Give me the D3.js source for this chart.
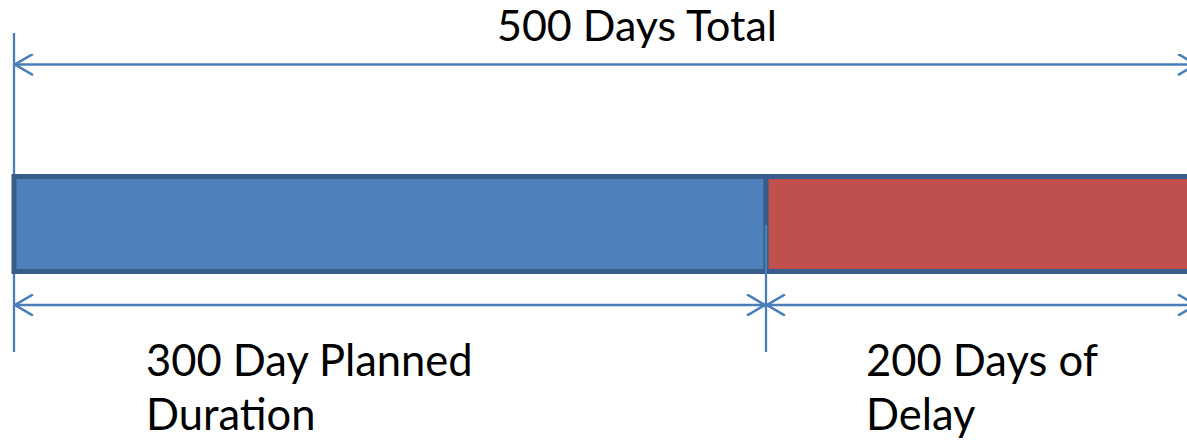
<!DOCTYPE html>
<html lang="en">
<head>
    <meta charset="UTF-8">
    <title>500 Days Total</title>
    <style>
        body { margin: 0; background: #fff; }
        .label { font-family: Lato, "Open Sans", sans-serif; fill: #000; }
        .dim { stroke: #4a7ebb; stroke-width: 2.3; fill: none; }
    </style>
</head>
<body>
    <svg width="1187" height="441"></svg>

    <script src="https://d3js.org/d3.v7.min.js"></script>
    <script>
        // Segments of the timeline (days)
        const segments = ['Planned', 'Delay'];
        const segmentDays = [300, 200];
        const segmentColors = ['#4f81bd', '#c0504d'];
        const segmentLabels = [['300 Day Planned', 'Duration'], ['200 Days of', 'Delay']];
        const totalLabel = '500 Days Total';

        const width = 1187;
        const height = 441;
        const svg = d3.select('svg');

        // cumulative start/end of each segment
        let acc = 0;
        const data = segments.map((name, i) => {
            const d = { name, start: acc, end: acc + segmentDays[i], color: segmentColors[i], label: segmentLabels[i] };
            acc += segmentDays[i];
            return d;
        });
        const total = acc;

        // the drawing is not to scale: planned part is wider than the delay part
        const x = d3.scaleLinear()
            .domain([0, segmentDays[0], total])
            .range([14, 766, 1197]);

        const barTop = 176.5, barH = 95;
        const topArrowY = 64.5, botArrowY = 305;

        // arrow marker (open V)
        const defs = svg.append('defs');
        ['start', 'end'].forEach(k => {
            defs.append('marker')
                .attr('id', 'arrow-' + k)
                .attr('viewBox', '0 -11 20 22')
                .attr('refX', k === 'end' ? 20 : 0)
                .attr('refY', 0)
                .attr('markerUnits', 'userSpaceOnUse')
                .attr('markerWidth', 20)
                .attr('markerHeight', 22)
                .attr('orient', 'auto')
                .append('path')
                .attr('d', k === 'end' ? 'M1,-10.5L19,0L1,10.5' : 'M19,-10.5L1,0L19,10.5')
                .attr('fill', 'none')
                .attr('stroke', '#4a7ebb')
                .attr('stroke-width', 2.6);
        });

        // left extension line (behind bar)
        svg.append('line')
            .attr('class', 'dim')
            .attr('x1', x(0)).attr('x2', x(0))
            .attr('y1', 33).attr('y2', 352);

        // bars
        svg.selectAll('.bar')
            .data(data)
            .enter().append('rect')
            .attr('class', 'bar')
            .attr('x', d => x(d.start))
            .attr('y', barTop)
            .attr('width', d => x(d.end) - x(d.start))
            .attr('height', barH)
            .attr('fill', d => d.color)
            .attr('stroke', '#385d8a')
            .attr('stroke-width', 5);

        // middle extension line (over bar)
        svg.append('line')
            .attr('class', 'dim')
            .attr('x1', x(segmentDays[0])).attr('x2', x(segmentDays[0]))
            .attr('y1', 225).attr('y2', 352);

        // total dimension arrow
        svg.append('line')
            .attr('class', 'dim')
            .attr('x1', x(0)).attr('x2', x(total))
            .attr('y1', topArrowY).attr('y2', topArrowY)
            .attr('marker-start', 'url(#arrow-start)')
            .attr('marker-end', 'url(#arrow-end)');

        // segment dimension arrows
        svg.selectAll('.seg-arrow')
            .data(data)
            .enter().append('line')
            .attr('class', 'dim seg-arrow')
            .attr('x1', d => x(d.start)).attr('x2', d => x(d.end))
            .attr('y1', botArrowY).attr('y2', botArrowY)
            .attr('marker-start', 'url(#arrow-start)')
            .attr('marker-end', 'url(#arrow-end)');

        // total label
        svg.append('text')
            .attr('class', 'label')
            .attr('x', (498 + 776) / 2)
            .attr('y', 41)
            .attr('text-anchor', 'middle')
            .attr('font-size', 43)
            .text(totalLabel);

        // segment labels
        const labelOffset = [132, 100];
        const lbl = svg.selectAll('.seg-label')
            .data(data)
            .enter().append('text')
            .attr('class', 'label seg-label')
            .attr('font-size', 43.5)
            .attr('x', (d, i) => x(d.start) + labelOffset[i])
            .attr('y', 376);
        lbl.selectAll('tspan')
            .data(d => d.label)
            .enter().append('tspan')
            .attr('x', function () { return d3.select(this.parentNode).attr('x'); })
            .attr('dy', (d, i) => i === 0 ? 0 : 54)
            .text(d => d);
    </script>
</body>
</html>
